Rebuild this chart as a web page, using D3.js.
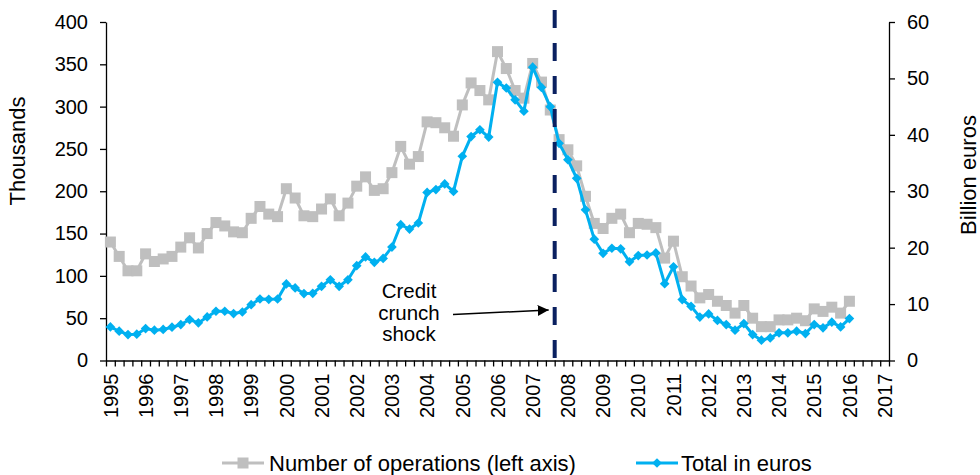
<!DOCTYPE html>
<html><head><meta charset="utf-8">
<script src="https://cdn.jsdelivr.net/npm/d3@7"></script>
<style>
body{margin:0;background:#fff}
text{font-family:Arial,"Liberation Sans",sans-serif;fill:#000}
</style>
</head><body>
<svg id="c" width="980" height="475"></svg>
<script>
// ---- data ----
const years = d3.range(1995, 2018);              // x tick labels 1995..2017
const leftTicks = [0,50,100,150,200,250,300,350,400];
const rightTicks = [0,10,20,30,40,50,60];
// quarterly, 1995Q1 .. 2016Q1 (thousands of operations, left axis)
const operations = [140,123,106,106,126,117,120,123,134,145,133,150,163,159,152,151,
  168,182,173,170,203,192,171,170,179,191,171,186,206,217,201,203,
  222,253,232,241,282,281,275,265,302,328,319,308,365,345,319,310,
  351,329,296,261,249,230,194,162,156,168,173,151,162,161,157,121,
  141,99,88,74,78,70,65,56,65,50,40,40,48,48,50,47,61,58,63,56,70];
// quarterly total, billion euros (right axis)
const totalEuros = [5.96,5.19,4.6,4.67,5.66,5.37,5.5,5.9,6.37,7.26,6.67,7.73,8.73,8.73,8.32,8.6,
  9.9,10.9,10.85,10.9,13.57,12.86,11.86,11.9,13.15,14.3,13.15,14.3,16.8,18.35,17.4,18.1,
  20.1,24.07,23.3,24.37,29.8,30.3,31.3,29.97,36.2,39.7,40.9,39.6,49.3,48.3,46.2,44.2,
  52,48.4,45,38.5,35.6,32.3,26.7,21.5,19.0,19.9,19.8,17.5,18.6,18.7,19.06,13.6,
  16.6,10.8,9.6,7.7,8.26,7.1,6.37,5.37,6.55,4.6,3.6,4.0,4.9,4.9,5.2,4.78,6.37,5.8,6.8,5.96,7.43];
const shockCategory = "2007Q4";
const seriesNames = ["Number of operations (left axis)", "Total in euros"];
const annotation = ["Credit","crunch","shock"];

// ---- layout ----
const L = 106, R = 889, T = 22, B = 360.5;
const FS = 20, FT = 22;
const grey = "#bfbfbf", blue = "#00b0f0", navy = "#0a2060";
const FF = "Arial, 'Liberation Sans', sans-serif";

const categories = years.flatMap(y => [1,2,3,4].map(q => y + "Q" + q)).slice(0, 89);
const x = d3.scaleBand().domain(categories).range([L, R]).padding(0);
const xb = d3.scaleLinear().domain([0, categories.length]).range([L, R]);
const yL = d3.scaleLinear().domain([0, 400]).range([B, T]);
const yR = d3.scaleLinear().domain([0, 60]).range([B, T]);
const cx = i => x(categories[i]) + x.bandwidth() / 2;

const svg = d3.select("#c");

// x axis: tick marks at category boundaries
const gx = svg.append("g").attr("transform", `translate(0,${B})`)
  .call(d3.axisBottom(xb).tickValues(d3.range(categories.length + 1)).tickSize(6).tickSizeOuter(0).tickFormat(""));
gx.selectAll("path,line").attr("stroke", "#000").attr("stroke-width", 1.3);

// x labels
const gxl = svg.append("g").attr("transform", `translate(0,${B})`)
  .call(d3.axisBottom(x).tickValues(years.map(y => y + "Q1")).tickSize(0).tickFormat(d => d.slice(0, 4)));
gxl.select(".domain").remove();
gxl.selectAll("text").attr("font-size", FS).attr("font-family", FF)
  .attr("transform", "rotate(-90)").attr("x", -13).attr("y", 0).attr("dy", "0.36em")
  .style("text-anchor", "end");

// left axis
const gl = svg.append("g").attr("transform", `translate(${L},0)`)
  .call(d3.axisLeft(yL).tickValues(leftTicks).tickSize(6).tickSizeOuter(0).tickPadding(12));
gl.selectAll("path,line").attr("stroke", "#000").attr("stroke-width", 1.3);
gl.selectAll("text").attr("font-size", FS).attr("font-family", FF);

// right axis
const gr = svg.append("g").attr("transform", `translate(${R},0)`)
  .call(d3.axisRight(yR).tickValues(rightTicks).tickSize(6).tickSizeOuter(0).tickPadding(12));
gr.selectAll("path,line").attr("stroke", "#000").attr("stroke-width", 1.3);
gr.selectAll("text").attr("font-size", FS).attr("font-family", FF);

// axis titles
svg.append("text").attr("transform", "translate(25,151) rotate(-90)").attr("text-anchor", "middle")
  .attr("font-size", FT).text("Thousands");
svg.append("text").attr("transform", "translate(976,175) rotate(-90)").attr("text-anchor", "middle")
  .attr("font-size", FT).text("Billion euros");

// series: operations (grey squares)
const lineL = d3.line().x((d, i) => cx(i)).y(d => yL(d));
svg.append("path").datum(operations).attr("d", lineL).attr("fill", "none")
  .attr("stroke", grey).attr("stroke-width", 3);
svg.append("g").selectAll("rect").data(operations).join("rect")
  .attr("x", (d, i) => cx(i) - 5.5).attr("y", d => yL(d) - 5.5)
  .attr("width", 11).attr("height", 11).attr("fill", grey);

// series: total in euros (blue diamonds)
const lineR = d3.line().x((d, i) => cx(i)).y(d => yR(d));
svg.append("path").datum(totalEuros).attr("d", lineR).attr("fill", "none")
  .attr("stroke", blue).attr("stroke-width", 3);
const diamond = d3.symbol().type(d3.symbolDiamond2).size(60);
svg.append("g").selectAll("path").data(totalEuros).join("path")
  .attr("d", diamond).attr("transform", (d, i) => `translate(${cx(i)},${yR(d)})`)
  .attr("fill", blue);

// dashed shock line
const xs = x(shockCategory);
svg.append("line").attr("x1", xs).attr("x2", xs).attr("y1", 10).attr("y2", B - 2)
  .attr("stroke", navy).attr("stroke-width", 4).attr("stroke-dasharray", "18 15");

// annotation
svg.append("text").attr("x", 409).attr("y", 298).attr("text-anchor", "middle").attr("font-size", 20.5)
  .selectAll("tspan").data(annotation).join("tspan")
  .attr("x", 409).attr("dy", (d, i) => i ? 21.5 : 0).text(d => d);
svg.append("defs").append("marker").attr("id", "ah").attr("viewBox", "0 0 10 10")
  .attr("refX", 10).attr("refY", 5).attr("markerWidth", 11).attr("markerHeight", 11)
  .attr("markerUnits", "userSpaceOnUse").attr("orient", "auto")
  .append("path").attr("d", "M0,0L10,5L0,10Z").attr("fill", "#000");
svg.append("line").attr("x1", 453).attr("y1", 314.5).attr("x2", xs - 6).attr("y2", 310)
  .attr("stroke", "#000").attr("stroke-width", 1.5).attr("marker-end", "url(#ah)");

// legend
const lg = svg.append("g");
lg.append("line").attr("x1", 222).attr("x2", 264).attr("y1", 463).attr("y2", 463).attr("stroke", grey).attr("stroke-width", 3);
lg.append("rect").attr("x", 237.5).attr("y", 457.5).attr("width", 11).attr("height", 11).attr("fill", grey);
lg.append("text").attr("x", 269).attr("y", 471).attr("font-size", FT).text(seriesNames[0]);
lg.append("line").attr("x1", 636).attr("x2", 678).attr("y1", 463).attr("y2", 463).attr("stroke", blue).attr("stroke-width", 3);
lg.append("path").attr("d", diamond).attr("transform", "translate(657,463)").attr("fill", blue);
lg.append("text").attr("x", 681).attr("y", 471).attr("font-size", FT).text(seriesNames[1]);
</script>
</body></html>
